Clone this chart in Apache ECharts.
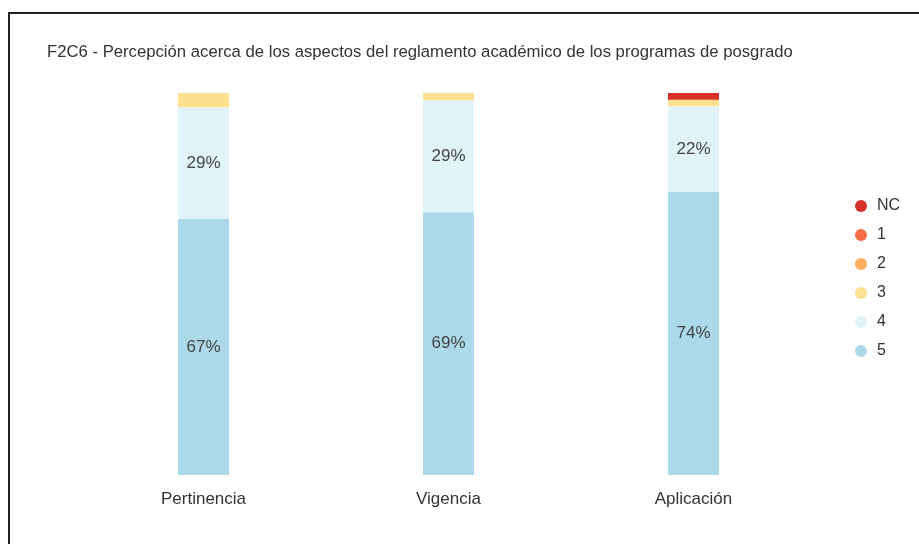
<!DOCTYPE html>
<html>
<head>
<meta charset="utf-8">
<script src="https://cdn.jsdelivr.net/npm/echarts@6/dist/echarts.min.js"></script>
<style>
  html, body { margin: 0; padding: 0; background: #fff; }
  #chart { position: absolute; left: 0; top: 0; width: 919px; height: 544px; }
  #frame { position: absolute; left: 8px; top: 12px; width: 940px; height: 560px;
           border: 2px solid #222; pointer-events: none; }
</style>
</head>
<body>
<div id="chart"></div>
<div id="frame"></div>
<script>
// categorías y porcentajes por nivel de respuesta
var categories = ['Pertinencia', 'Vigencia', 'Aplicación'];
var levels = ['NC', '1', '2', '3', '4', '5'];
var valNC = [0, 0, 1.75];
var val1 = [0, 0, 0];
var val2 = [0, 0, 0];
var val3 = [3.7, 1.9, 1.75];
var val4 = [29.3, 29.3, 22.4];
var val5 = [67.0, 68.8, 74.1];

var colors = {
    'NC': '#d73027',
    '1': '#f46d43',
    '2': '#fdae61',
    '3': '#fee090',
    '4': '#e0f3f8',
    '5': '#abd9e9'
};

var myChart = echarts.init(document.getElementById('chart'));

function makeSeries(name, data) {
    return {
        name: name,
        type: 'bar',
        stack: 'total',
        barWidth: 51,
        data: data,
        itemStyle: { color: colors[name] },
        label: {
            show: true,
            position: 'inside',
            color: '#444',
            fontSize: 17,
            fontFamily: 'Liberation Sans, Arial, sans-serif',
            formatter: function (p) {
                return p.value >= 5 ? Math.round(p.value) + '%' : '';
            }
        },
        emphasis: { disabled: true }
    };
}

var option = {
    animation: false,
    textStyle: { fontFamily: 'Liberation Sans, Arial, sans-serif' },
    title: {
        text: 'F2C6 - Percepción acerca de los aspectos del reglamento académico de los programas de posgrado',
        left: 42,
        top: 39,
        textStyle: { fontSize: 16.7, fontWeight: 'normal', color: '#333' }
    },
    legend: {
        orient: 'vertical',
        left: 850,
        top: 193,
        icon: 'circle',
        itemWidth: 12,
        itemHeight: 12,
        itemGap: 13,
        data: levels,
        textStyle: { fontSize: 16, color: '#333', lineHeight: 16, padding: [0, 0, 0, 5] }
    },
    grid: {
        left: 81,
        right: 103,
        top: 93,
        bottom: 69
    },
    xAxis: {
        type: 'category',
        data: categories,
        axisLine: { show: false },
        axisTick: { show: false },
        axisLabel: { color: '#333', fontSize: 17, margin: 16 }
    },
    yAxis: {
        type: 'value',
        min: 0,
        max: 100,
        show: false
    },
    series: [
        makeSeries('5', val5),
        makeSeries('4', val4),
        makeSeries('3', val3),
        makeSeries('2', val2),
        makeSeries('1', val1),
        makeSeries('NC', valNC)
    ]
};

myChart.setOption(option);
</script>
</body>
</html>
